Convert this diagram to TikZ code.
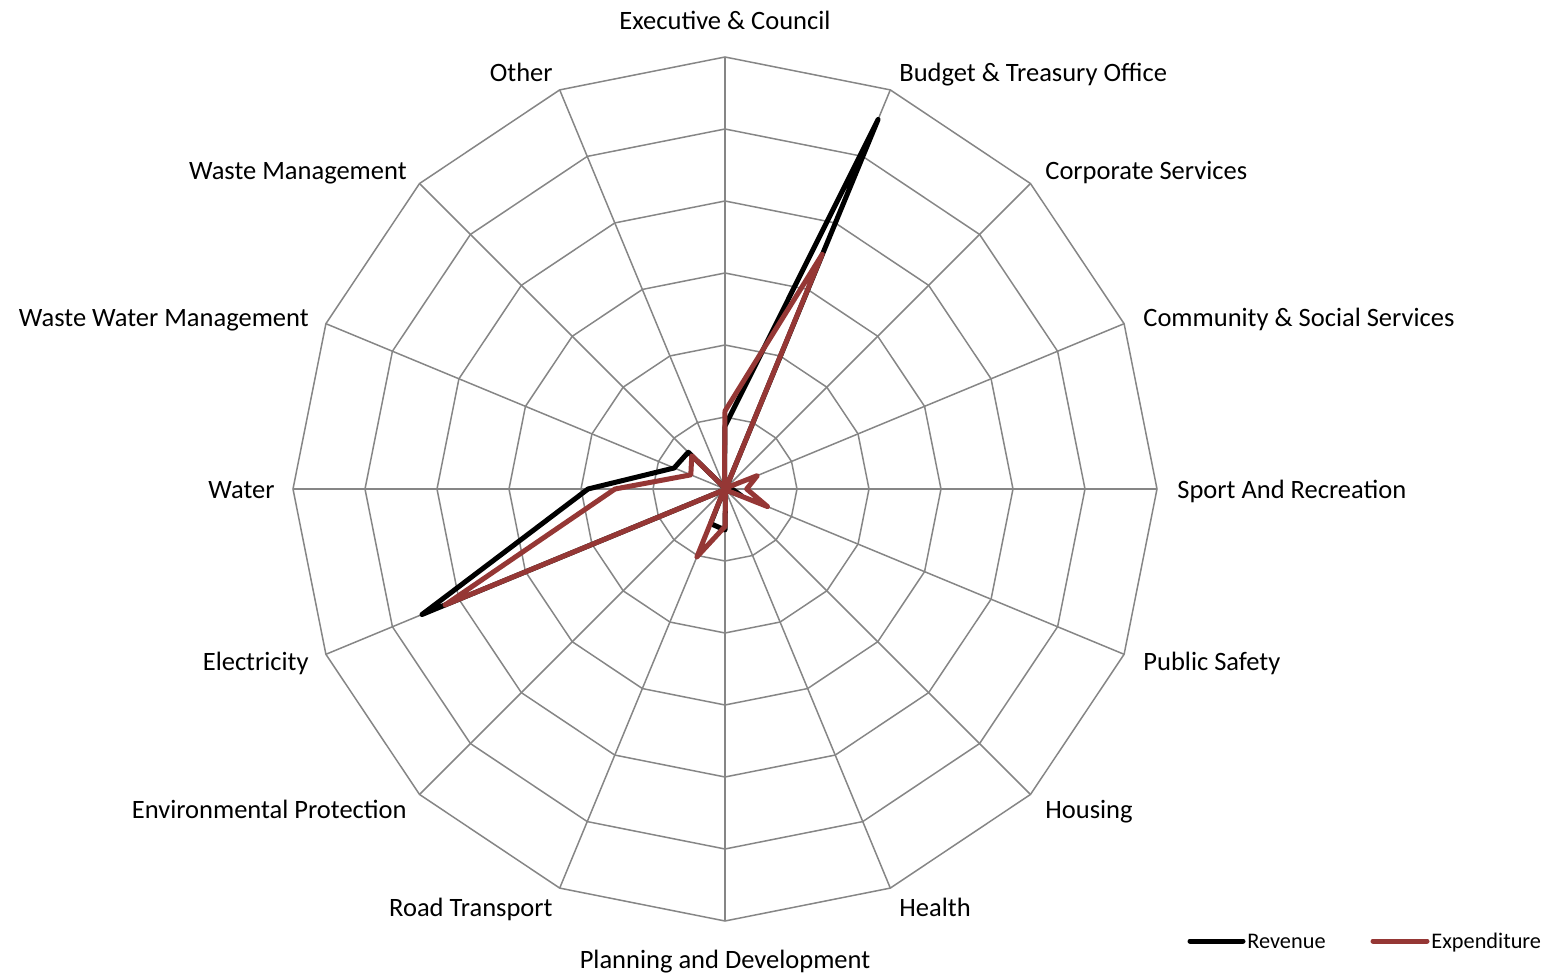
\documentclass[tikz,border=0pt]{standalone}
\usepackage{fontspec}
\setmainfont{Carlito}
\definecolor{gridgray}{RGB}{134,134,134}
\definecolor{expred}{RGB}{149,55,53}
\begin{document}
\begin{tikzpicture}[x=0.5pt,y=0.5pt,
  gridline/.style={draw=gridgray,line width=0.75pt},
  datarev/.style={draw=black,line width=2.5pt,line join=round,line cap=round},
  dataexp/.style={draw=expred,line width=2.5pt,line join=round,line cap=round},
  lbl/.style={inner sep=0pt,font=\fontsize{13.25}{16}\selectfont},
  leg/.style={inner sep=0pt,font=\fontsize{11.15}{13}\selectfont}]
\useasboundingbox (0,0) rectangle (1549,976);
\begin{scope}[shift={(725,487)}]
  % axes
  \foreach \k in {0,...,15} {
    \draw[gridline] (0,0) -- ({90-22.5*\k}:432);
  }
  % rings
  \foreach \i in {1,...,6} {
    \pgfmathsetmacro{\r}{72*\i}
    \draw[gridline] (90:\r) \foreach \k in {1,...,15} { -- ({90-22.5*\k}:\r) } -- cycle;
  }
  % revenue
  \draw[datarev] (90:63) -- (67.5:400) -- (45:1.5) -- (22.5:2) -- (0:7) -- (-22.5:18)
    -- (-45:1.5) -- (-67.5:1.5) -- (-90:41) -- (-112.5:37.5) -- (-135:1.5)
    -- (-157.5:328) -- (180:137) -- (157.5:55) -- (135:52) -- (112.5:1.5) -- cycle;
  % expenditure
  \draw[dataexp] (90:78) -- (67.5:254) -- (45:1.5) -- (22.5:35) -- (0:21.7) -- (-22.5:46)
    -- (-45:1.5) -- (-67.5:1.5) -- (-90:37.5) -- (-112.5:73.5) -- (-135:1.5)
    -- (-157.5:303) -- (180:110) -- (157.5:37) -- (135:47) -- (112.5:1.5) -- cycle;
\end{scope}
% labels
\node[lbl,anchor=base] (l0) at (725,946) {Executive \& Council};
\node[lbl,anchor=base west] (l1) at (899,894) {Budget \& Treasury Office};
\node[lbl,anchor=base west] (l2) at (1045,796) {Corporate Services};
\node[lbl,anchor=base west] (l3) at (1143,649) {Community \& Social Services};
\node[lbl,anchor=base west] (l4) at (1177,477) {Sport And Recreation};
\node[lbl,anchor=base west] (l5) at (1143,305) {Public Safety};
\node[lbl,anchor=base west] (l6) at (1045,158) {Housing};
\node[lbl,anchor=base west] (l7) at (899,60) {Health};
\node[lbl,anchor=base] (l8) at (725,8) {Planning and Development};
\node[lbl,anchor=base east] (l9) at (553,60) {Road Transport};
\node[lbl,anchor=base east] (l10) at (407,158) {Environmental Protection};
\node[lbl,anchor=base east] (l11) at (309,305) {Electricity};
\node[lbl,anchor=base east] (l12) at (275,477) {Water};
\node[lbl,anchor=base east] (l13) at (309,649) {Waste Water Management};
\node[lbl,anchor=base east] (l14) at (407,796) {Waste Management};
\node[lbl,anchor=base east] (l15) at (553,894) {Other};
% legend
\coordinate (r1) at (1190,35);
\coordinate (r2) at (1243,35);
\coordinate (e1) at (1373,35);
\coordinate (e2) at (1427,35);
\draw[datarev] (r1) -- (r2);
\draw[dataexp] (e1) -- (e2);
\node[leg,anchor=base west] (lr) at (1247,28) {Revenue};
\node[leg,anchor=base west] (le) at (1431,28) {Expenditure};
\end{tikzpicture}
\end{document}
